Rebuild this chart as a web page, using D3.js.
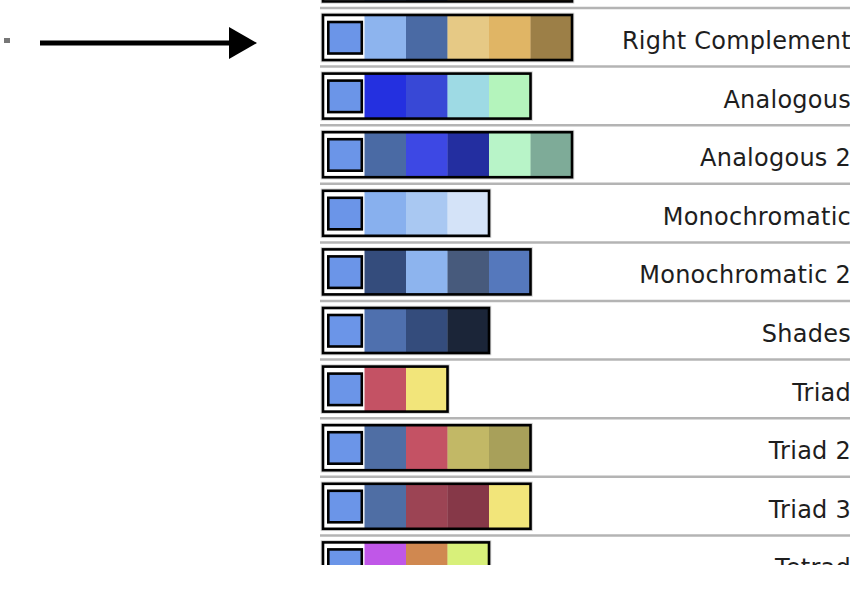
<!DOCTYPE html>
<html>
<head>
<meta charset="utf-8">
<script src="https://cdn.jsdelivr.net/npm/d3@7"></script>
<style>
  body { margin: 0; background: #fff; }
  svg { display: block; }
</style>
</head>
<body>
<svg id="chart" width="850" height="596"></svg>
<script>
// palette rows, top one is only partly visible
var schemeNames = ["Complement", "Right Complement", "Analogous", "Analogous 2", "Monochromatic",
  "Monochromatic 2", "Shades", "Triad", "Triad 2", "Triad 3", "Tetrad"];

var baseColor = "#6b95e8";

var schemeColors = [
  ["#8db4ee", "#4a6aa4", "#e6c985", "#e0b565", "#9c7f47"],
  ["#8db4ee", "#4a6aa4", "#e6c985", "#e0b565", "#9c7f47"],
  ["#2430e0", "#3848d6", "#9edae4", "#b4f4bc"],
  ["#4a6aa4", "#3d48e4", "#232ea0", "#b8f4c8", "#7eab98"],
  ["#88b0ee", "#a9c8f2", "#d4e3f8"],
  ["#344c7c", "#8db4ee", "#475a7c", "#5578bc"],
  ["#4f70ae", "#344c7c", "#1b2538"],
  ["#c45264", "#f2e57a"],
  ["#4f6ea4", "#c45264", "#c2b866", "#a8a05a"],
  ["#4f6ea4", "#9c4454", "#863848", "#f2e57a"],
  ["#c057e8", "#d08850", "#d8f07a"]
];

var svg = d3.select("#chart");

// left marker and arrow
svg.append("rect")
  .attr("x", 4).attr("y", 38).attr("width", 6).attr("height", 5)
  .attr("fill", "#777");

svg.append("line")
  .attr("x1", 40).attr("y1", 43).attr("x2", 232).attr("y2", 43)
  .attr("stroke", "black").attr("stroke-width", 5);

svg.append("polygon")
  .attr("points", "229,27 257,43 229,59")
  .attr("fill", "black");

// panel, clipped at the bottom
svg.append("clipPath").attr("id", "panelClip")
  .append("rect").attr("x", 300).attr("y", 0).attr("width", 560).attr("height", 565);

var panel = svg.append("g").attr("clip-path", "url(#panelClip)");

var rowY = d3.scaleLinear().domain([0, 1]).range([-50.6, 8]);   // separator position of each row
var cellX = d3.scaleLinear().domain([0, 1]).range([323, 364.5]);
var boxH = 45;

var rows = panel.selectAll("g.row")
  .data(schemeNames)
  .enter().append("g")
  .attr("class", "row")
  .attr("transform", function(d, i) { return "translate(0," + rowY(i) + ")"; });

rows.append("line")
  .attr("x1", 320).attr("x2", 850).attr("y1", 0).attr("y2", 0)
  .attr("stroke", "#b4b4b4").attr("stroke-width", 2.5);

rows.each(function(name, i) {
  var g = d3.select(this);
  var cells = [baseColor].concat(schemeColors[i]);
  var w = cellX(cells.length) - cellX(0);

  // soft shadow around the box
  g.append("rect")
    .attr("x", cellX(0)).attr("y", 7).attr("width", w).attr("height", boxH)
    .attr("fill", "none").attr("stroke", "#999").attr("stroke-width", 4.5)
    .attr("opacity", 0.45);

  g.selectAll("rect.cell")
    .data(cells)
    .enter().append("rect")
    .attr("class", "cell")
    .attr("x", function(c, j) { return cellX(j); })
    .attr("y", 7)
    .attr("width", cellX(1) - cellX(0) + 0.3)
    .attr("height", boxH)
    .attr("fill", function(c, j) { return j === 0 ? "#fff" : c; });

  // selected base colour
  g.append("rect")
    .attr("x", cellX(0) + 5.3).attr("y", 14).attr("width", 33.5).attr("height", 31.5)
    .attr("fill", baseColor).attr("stroke", "black").attr("stroke-width", 2.6);

  g.append("rect")
    .attr("x", cellX(0)).attr("y", 7).attr("width", w).attr("height", boxH)
    .attr("fill", "none").attr("stroke", "black").attr("stroke-width", 2.6);

  // label of the row above the window is not drawn
  if (rowY(i) + 41 > 0) {
    g.append("text")
      .attr("x", 851).attr("y", 41)
      .attr("text-anchor", "end")
      .attr("font-family", "DejaVu Sans")
      .attr("font-size", 24)
      .attr("letter-spacing", 0.25)
      .attr("fill", "#1e1e1e")
      .text(name);
  }
});
</script>
</body>
</html>
